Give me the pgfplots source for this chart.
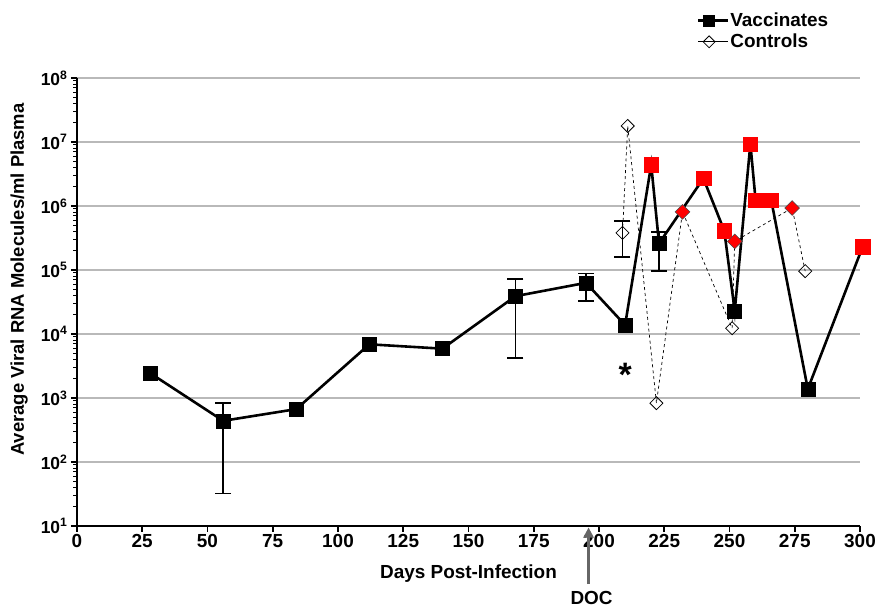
\documentclass[border=0pt]{standalone}
\usepackage{fontspec}
\setmainfont{Liberation Sans}
\usepackage{pgfplots}
\pgfplotsset{compat=1.18}
\usetikzlibrary{arrows.meta,calc}
\begin{document}
\begin{tikzpicture}
\useasboundingbox (-77bp,-82bp) rectangle (799bp,526bp);
\begin{axis}[
  scale only axis, width=783bp, height=448bp,
  xmin=0, xmax=300, ymode=log, ymin=10, ymax=1e8,
  clip=false,
  axis x line*=bottom, axis y line*=left,
  axis line style={line width=2.2bp, -},
  every tick/.style={black, line width=1.6bp},
  minor tick style={line width=1.1bp},
  major tick length=6bp, minor tick length=3.5bp,
  tick align=outside,
  xtick={0,25,...,300},
  ytick={10,100,1000,10000,100000,1000000,10000000,100000000},
  yticklabels={10\textsuperscript{1},10\textsuperscript{2},10\textsuperscript{3},10\textsuperscript{4},10\textsuperscript{5},10\textsuperscript{6},10\textsuperscript{7},10\textsuperscript{8}},
  /pgf/number format/assume math mode=true,
  xticklabel style={font=\fontsize{19}{20}\selectfont\bfseries, yshift=1bp},
  yticklabel style={font=\fontsize{17.5}{18}\selectfont\bfseries, xshift=0bp},
  ymajorgrids, grid style={gray!55, line width=1.4bp},
  xlabel={Days Post-Infection},
  ylabel={Average Viral RNA Molecules/ml Plasma},
  xlabel style={font=\fontsize{19}{20}\selectfont\bfseries, at={(axis description cs:0.5,-0.107)}, anchor=center},
  ylabel style={font=\fontsize{18.5}{20}\selectfont\bfseries, at={(axis description cs:-0.074,0.55)}, anchor=center},
  legend style={at={(rel axis cs:0.79,1.15)}, anchor=north west, draw=none, fill=none,
    font=\fontsize{19}{20}\selectfont\bfseries, row sep=4bp, inner sep=1bp,
    nodes={inner sep=1bp}},
  legend cell align=left,
  legend image code/.code={\draw[mark repeat=2,mark phase=2,#1] plot coordinates {(0bp,0bp) (11bp,0bp) (22bp,0bp)}; \path (0bp,0bp) -- (30bp,0bp);},
]
% error bars
\addplot[black, line width=1.4bp, mark=-, mark size=8bp, mark options={line width=1.4bp}, forget plot] coordinates {(56,32) (56,830)};
\addplot[black, line width=1.4bp, mark=-, mark size=8bp, mark options={line width=1.4bp}, forget plot] coordinates {(168,4200) (168,72000)};
\addplot[black, line width=1.4bp, mark=-, mark size=8bp, mark options={line width=1.4bp}, forget plot] coordinates {(195,33000) (195,89000)};
\addplot[black, line width=1.4bp, mark=-, mark size=8bp, mark options={line width=1.4bp}, forget plot] coordinates {(223,96000) (223,390000)};
\addplot[black, line width=1.4bp, mark=-, mark size=8bp, mark options={line width=1.4bp}, forget plot] coordinates {(209,160000) (209,580000)};
% vaccinates
\addplot[black, line width=2.6bp, mark=square*, mark size=7bp, mark options={solid, fill=black, line width=0.5bp},
  legend image post style={mark size=5.5bp}] coordinates {
(28,2450) (56,440) (84,670) (112,6900) (140,5900) (168,39000) (195,63000) (210,13800)
(220,4.4e6) (223,2.6e5) (240,2.7e6) (248,4.1e5) (252,23000) (258,9.3e6) (260,1.23e6)
(266,1.23e6) (280,1380) (301,2.3e5)};
\addlegendentry{Vaccinates}
% controls
\addplot[black, line width=0.7bp, dashed, mark=square, mark size=4.6bp, mark options={solid, rotate=45, fill=white, line width=0.8bp},
  legend image post style={solid, mark size=4.2bp}] coordinates {
(209,3.8e5) (211,1.78e7) (222,830) (232,8.1e5) (251,12300) (252,2.8e5) (274,9.3e5) (279,9.6e4)};
\addlegendentry{Controls}
% red highlighted points
\addplot[only marks, mark=square*, mark size=7.3bp, mark options={fill=red, draw=red}, forget plot] coordinates {
(220,4.4e6) (240,2.7e6) (248,4.1e5) (258,9.3e6) (260,1.23e6) (266,1.23e6) (301,2.3e5)};
\addplot[only marks, mark=square*, mark size=5.2bp, mark options={rotate=45, fill=red, draw=black!70, line width=0.6bp}, forget plot] coordinates {
(232,8.1e5) (252,2.8e5) (274,9.3e5)};
% asterisk
\node[font=\fontsize{34}{34}\selectfont\bfseries] at (axis cs:210,2300) {*};
\coordinate (doc) at (axis cs:196,10);
\end{axis}
% DOC arrow
\draw[gray!80!black, line width=2.2bp, -{Triangle[length=10bp, width=10bp]}] ($(doc)+(0,-58bp)$) -- ($(doc)+(0,-1.5bp)$);
\node[font=\fontsize{19}{20}\selectfont\bfseries] at ($(doc)+(3bp,-72bp)$) {DOC};
\end{tikzpicture}
\end{document}
